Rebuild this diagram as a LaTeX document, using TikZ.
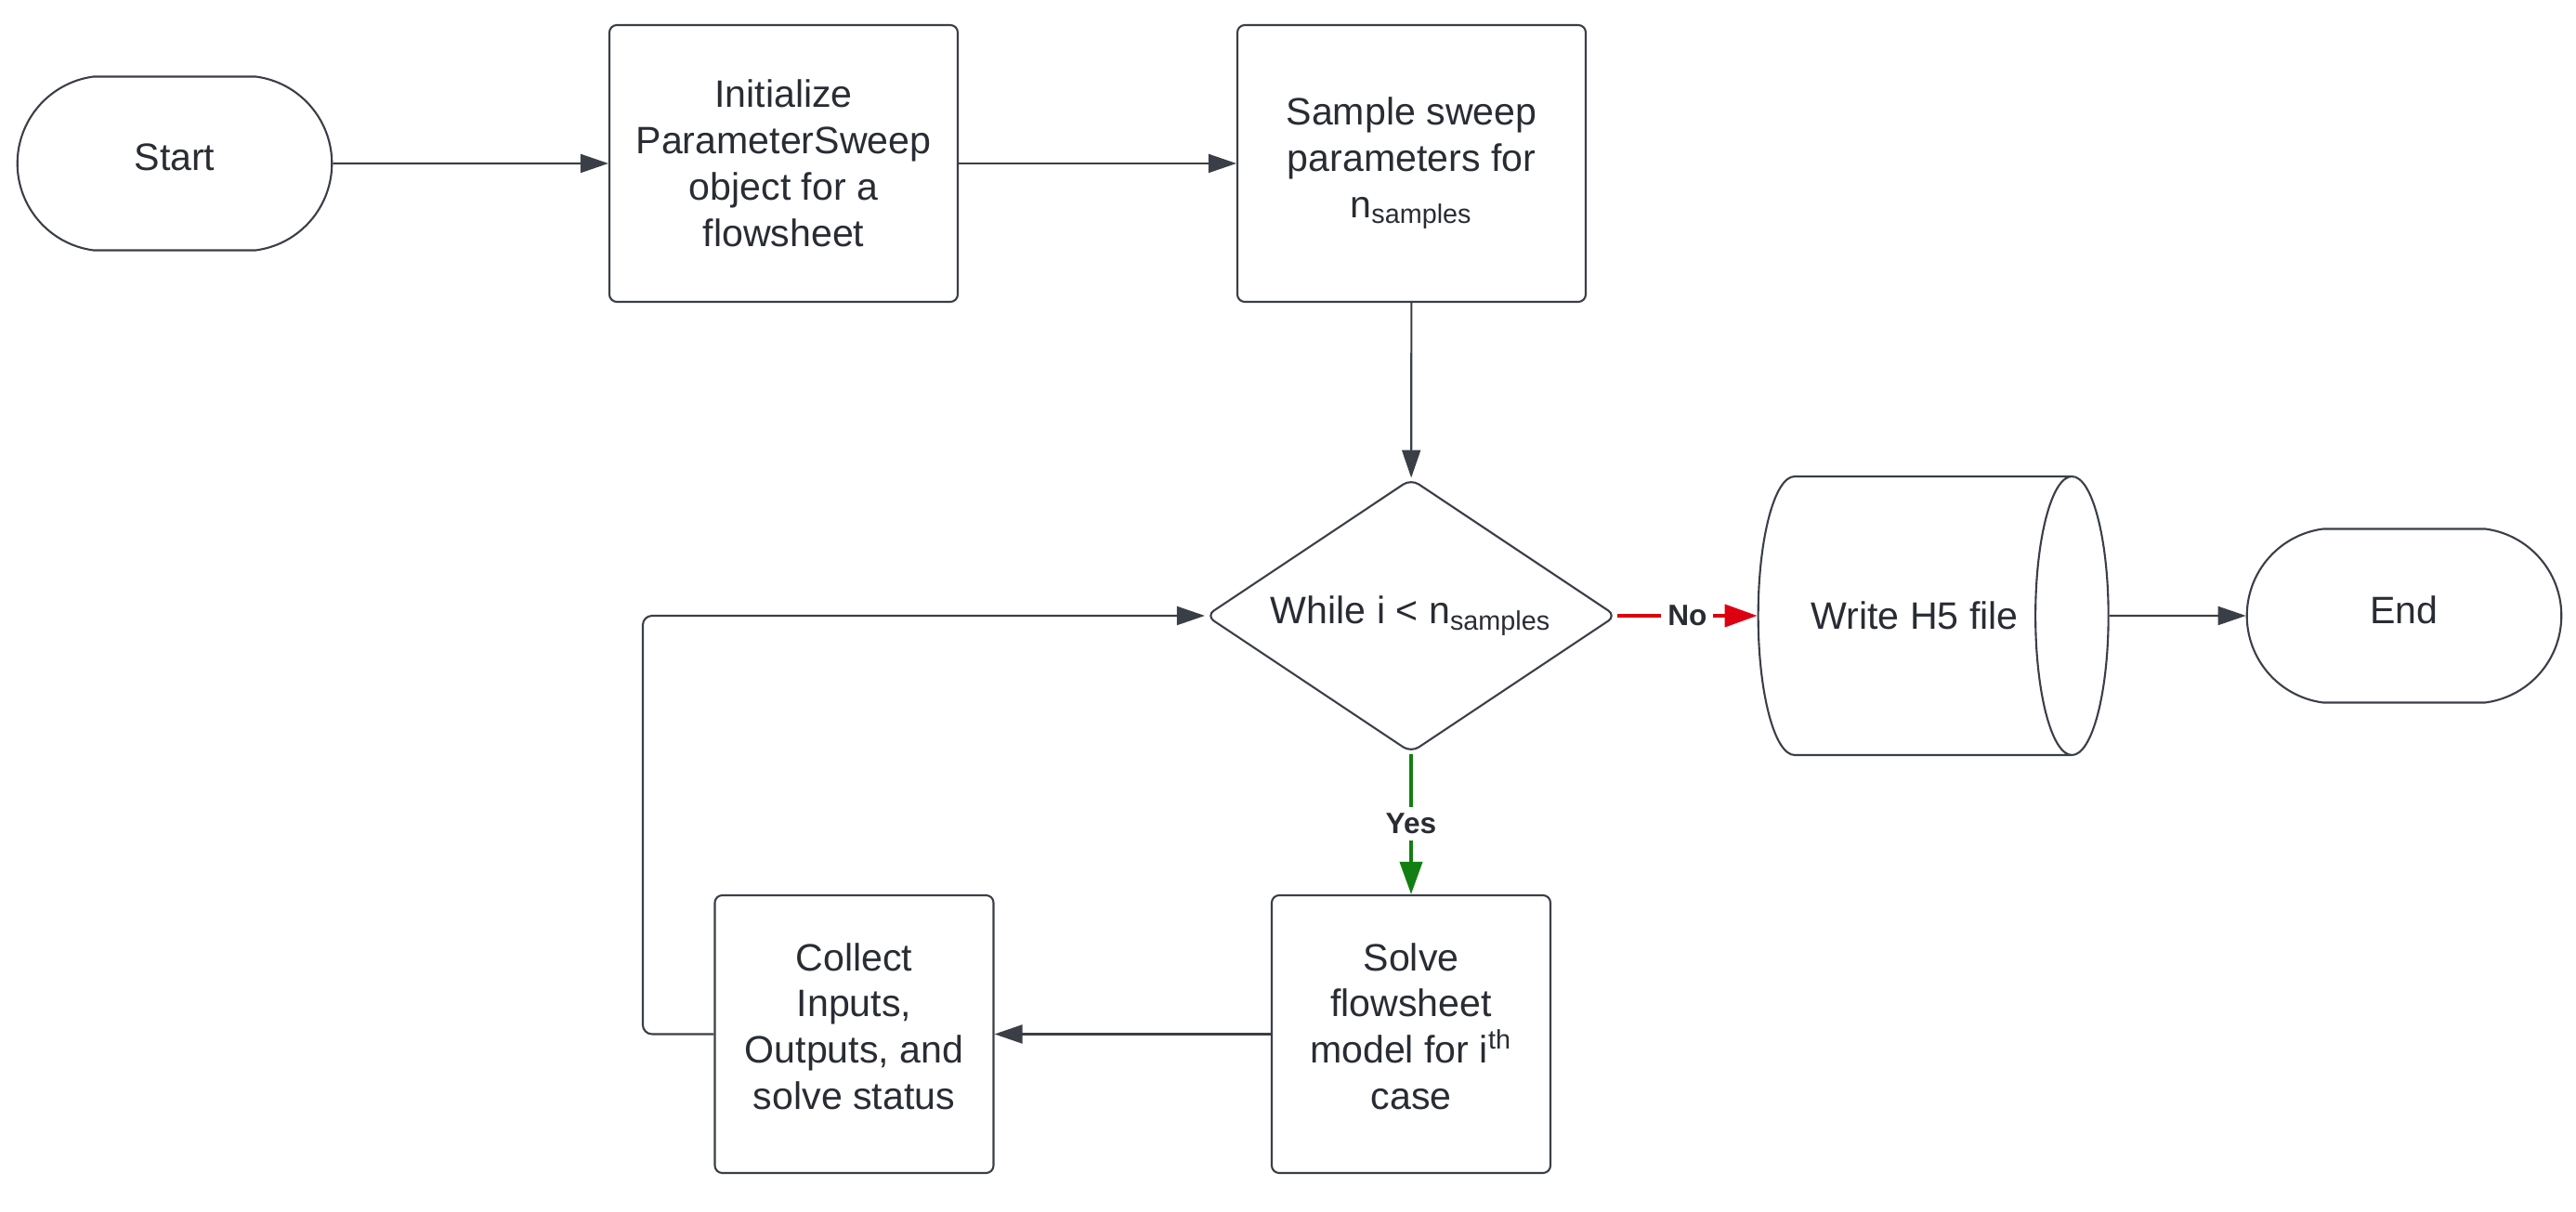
\documentclass[tikz,border=0pt]{standalone}
\usepackage{fontspec}
\setmainfont{Liberation Sans}
\usetikzlibrary{shapes.geometric,shapes.misc,arrows.meta}
\definecolor{inkcol}{HTML}{282C33}
\definecolor{linecol}{HTML}{3A3F47}
\definecolor{yescol}{HTML}{137F13}
\definecolor{nocol}{HTML}{DD0010}

\begin{document}
\begin{tikzpicture}[>={Triangle[length=0.3cm,width=0.2cm]},
    font=\fontsize{11.7}{14.2}\selectfont, text=inkcol,
    step box/.style={draw=linecol,line width=0.6pt,rounded corners=0.08cm,
      minimum width=3.75cm,minimum height=2.98cm,align=center,inner sep=0pt},
    small box/.style={step box,minimum width=3.0cm,minimum height=2.99cm,text depth=0.17cm},
    terminal/.style={draw=linecol,line width=0.6pt,rounded rectangle,text depth=0.13cm,
      rounded rectangle arc length=165,minimum width=3.62cm,minimum height=1.87cm},
    description/.style={fill=white,inner sep=2pt,text=inkcol,
      font=\bfseries\fontsize{9}{10}\selectfont}]
    \useasboundingbox (0,0) rectangle (27.73,13.05);

    \node[terminal] (start) at (1.88,11.29) {Start};
    \node[step box] (init) at (8.435,11.29) {Initialize\\ParameterSweep\\object for a\\flowsheet};
    \node[step box] (sample) at (15.195,11.29) {Sample sweep\\parameters for\\n\textsubscript{samples}};
    \node[draw=linecol,line width=0.6pt,diamond,aspect=1.5,rounded corners=0.1cm,inner sep=0pt,
      minimum width=4.42cm,minimum height=2.95cm] (loop) at (15.19,6.42)
      {While i < n\textsubscript{samples}};
    \node[draw=linecol,line width=0.6pt,cylinder,aspect=2.6,inner sep=0pt,
      minimum width=3.0cm,minimum height=3.77cm] (write) at (20.61,6.42) {Write H5 file};
    \node[terminal] (end) at (25.88,6.42) {End};
    \node[small box] (solve) at (15.19,1.915) {Solve\\flowsheet\\model for i\textsuperscript{th}\\case};
    \node[small box] (collect) at (9.195,1.915) {Collect\\Inputs,\\Outputs, and\\solve status};

    \path[->,linecol,line width=0.6pt]
    (start) edge (init)
    (init) edge (sample)
    (sample) edge (loop)
    (write) edge (end)
    (solve) edge (collect);
    \draw[->,linecol,line width=0.6pt,rounded corners=0.1cm]
    (collect.west) -- ([xshift=-0.765cm]collect.west) |- (loop.west);
    \path[->,nocol,line width=1.1pt,>={Triangle[length=0.35cm,width=0.24cm]}]
    (loop.east) edge node[description] {No} (write.west);
    \path[->,yescol,line width=1.1pt,>={Triangle[length=0.35cm,width=0.24cm]}]
    (loop.south) edge node[description] {Yes} (solve.north);
  \end{tikzpicture}
\end{document}
